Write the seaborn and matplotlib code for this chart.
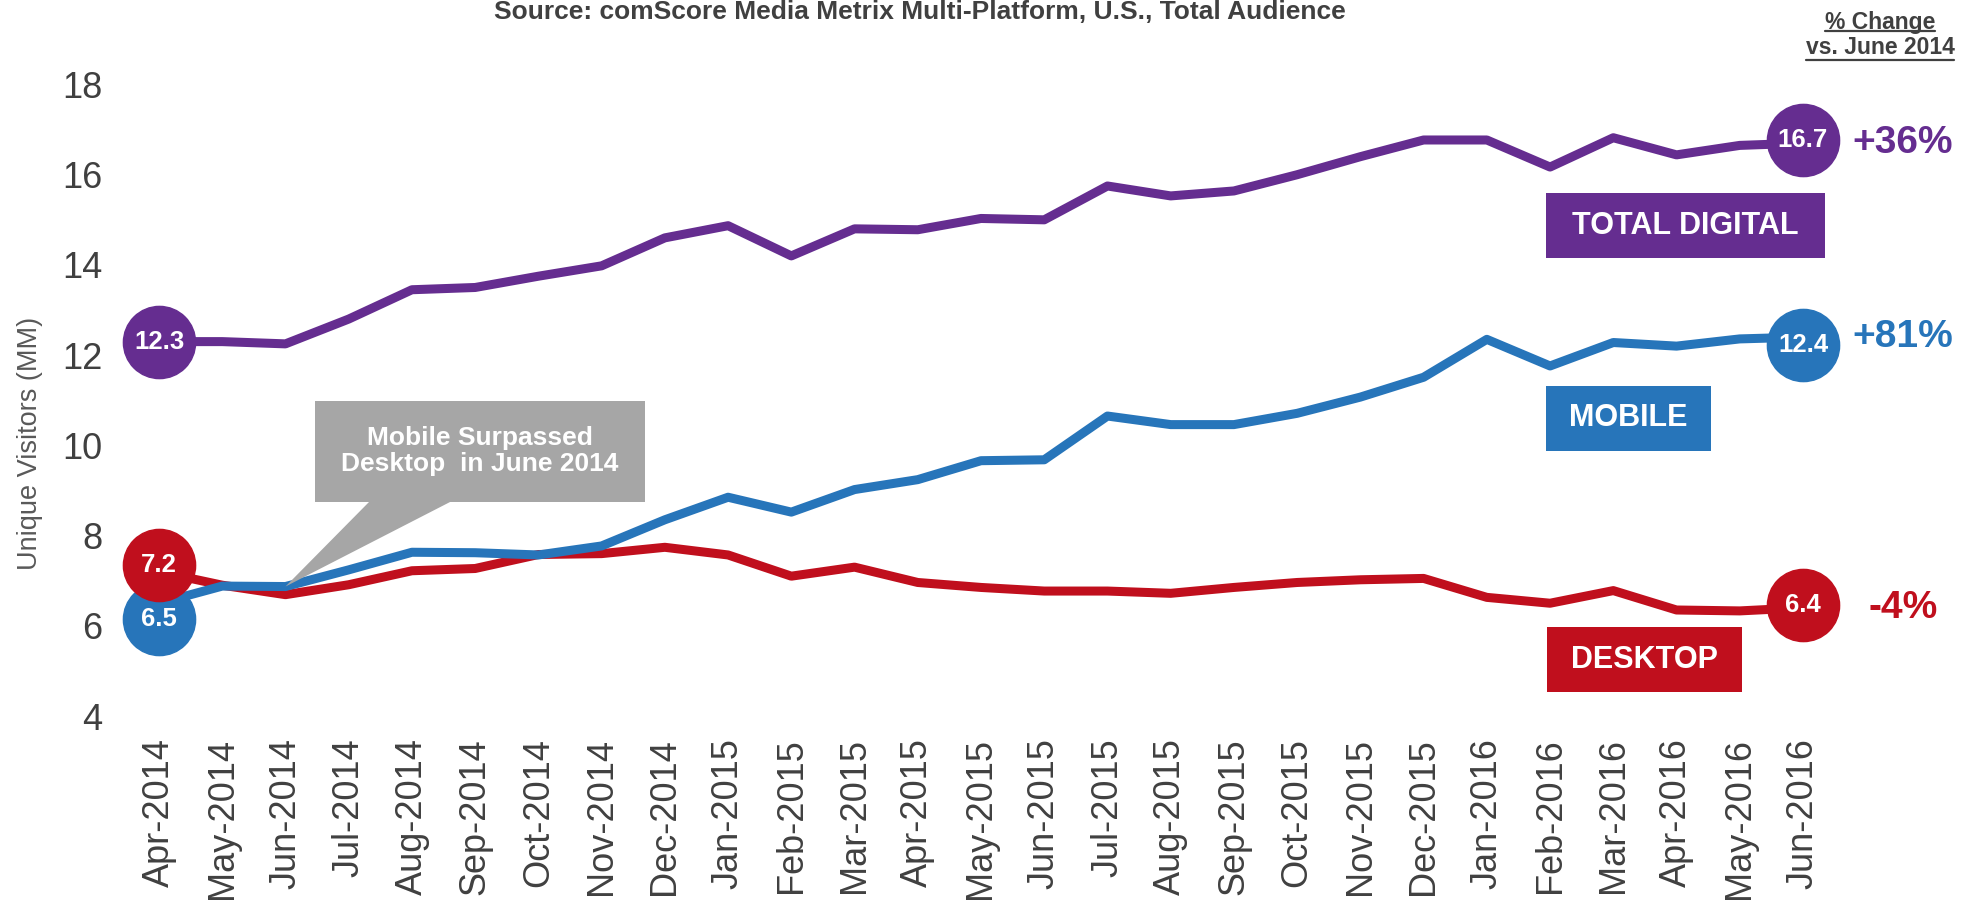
import matplotlib
matplotlib.use("Agg")
import matplotlib.pyplot as plt
from matplotlib.patches import Rectangle, Polygon
from matplotlib.lines import Line2D
from matplotlib.transforms import ScaledTranslation
import pandas as pd
import seaborn as sns

# ---- data -------------------------------------------------------------
months = ["Apr-2014", "May-2014", "Jun-2014", "Jul-2014", "Aug-2014", "Sep-2014",
          "Oct-2014", "Nov-2014", "Dec-2014", "Jan-2015", "Feb-2015", "Mar-2015",
          "Apr-2015", "May-2015", "Jun-2015", "Jul-2015", "Aug-2015", "Sep-2015",
          "Oct-2015", "Nov-2015", "Dec-2015", "Jan-2016", "Feb-2016", "Mar-2016",
          "Apr-2016", "May-2016", "Jun-2016"]

total_digital = [12.3, 12.3, 12.25, 12.8, 13.45, 13.5, 13.75, 13.98, 14.6, 14.87,
                 14.2, 14.8, 14.78, 15.03, 15.0, 15.75, 15.53, 15.64, 16.0, 16.4,
                 16.77, 16.77, 16.17, 16.82, 16.44, 16.65, 16.7]
mobile = [6.5, 6.88, 6.87, 7.24, 7.63, 7.62, 7.57, 7.77, 8.35, 8.85,
          8.52, 9.02, 9.24, 9.66, 9.68, 10.65, 10.46, 10.46, 10.71, 11.07,
          11.51, 12.35, 11.76, 12.28, 12.2, 12.36, 12.4]
desktop = [7.2, 6.9, 6.69, 6.91, 7.22, 7.27, 7.58, 7.6, 7.74, 7.57,
           7.1, 7.3, 6.96, 6.85, 6.77, 6.77, 6.72, 6.85, 6.96, 7.02,
           7.05, 6.63, 6.5, 6.78, 6.35, 6.33, 6.4]

series_names = ["TOTAL DIGITAL", "MOBILE", "DESKTOP"]
pct_change = ["+36%", "+81%", "-4%"]
y_ticks = [4, 6, 8, 10, 12, 14, 16, 18]

title = "Source: comScore Media Metrix Multi-Platform, U.S., Total Audience"
callout_text = "Mobile Surpassed\nDesktop  in June 2014"
ylabel = "Unique Visitors (MM)"

# ---- style ------------------------------------------------------------
sns.set_theme(style="white")
plt.rcParams["font.family"] = ["Liberation Sans", "DejaVu Sans"]

colors = {"TOTAL DIGITAL": "#652D90", "MOBILE": "#2775BA", "DESKTOP": "#C00F1D"}
grey_text = "#404040"

W, H = 1963, 906
fig = plt.figure(figsize=(W / 100, H / 100), dpi=100)
fig.patch.set_facecolor("white")

def fx(x):
    return x / W

def fy(y):
    return 1 - y / H

ax = fig.add_axes([fx(127.4), fy(716), fx(1834.6 - 127.4), (716 - 84.5) / H])

values = {"TOTAL DIGITAL": total_digital, "MOBILE": mobile, "DESKTOP": desktop}
rows = []
for name in series_names:
    for i, v in enumerate(values[name]):
        rows.append({"month": i, "visitors": v, "platform": name})
df = pd.DataFrame(rows)

sns.lineplot(data=df, x="month", y="visitors", hue="platform",
             hue_order=["DESKTOP", "MOBILE", "TOTAL DIGITAL"],
             palette=colors, linewidth=6.5, legend=False, sort=False, ax=ax)
for line in ax.get_lines():
    line.set_solid_joinstyle("round")
    line.set_solid_capstyle("butt")

ax.set_xlim(-0.5, len(months) - 0.5)
ax.set_ylim(4, 18)
ax.set_yticks(y_ticks)
ax.set_yticklabels([str(t) for t in y_ticks])
ax.set_xticks(range(len(months)))
ax.set_xticklabels(months, rotation=90)
ax.tick_params(axis="y", length=0, pad=18, labelsize=26, labelcolor=grey_text)
ax.tick_params(axis="x", length=0, pad=16, labelsize=26, labelcolor=grey_text)
ax.set_xlabel("")
ax.set_ylabel("")
for s in ax.spines.values():
    s.set_visible(False)
ax.grid(False)

fig.text(fx(30), fy(443), ylabel, rotation=90, ha="center", va="center",
         fontsize=19.5, color="#595959")

# ---- value badges at both ends ---------------------------------------
def badge(xi, val, color, dy_pt=0.0):
    tr = ax.transData + ScaledTranslation(0, dy_pt / 72, fig.dpi_scale_trans)
    ax.plot([xi], [val], marker="o", ms=52, color=color, mec=color,
            transform=tr, clip_on=False, zorder=5)
    ax.text(xi, val, f"{val:.1f}", transform=tr, ha="center", va="center",
            fontsize=18.5, fontweight="bold", color="white", zorder=6)

last = len(months) - 1
badge(0, total_digital[0], colors["TOTAL DIGITAL"])
badge(0, mobile[0], colors["MOBILE"], dy_pt=-11)
badge(0, desktop[0], colors["DESKTOP"], dy_pt=5)
badge(last, total_digital[-1], colors["TOTAL DIGITAL"], dy_pt=2)
badge(last, mobile[-1], colors["MOBILE"], dy_pt=-6)
badge(last, desktop[-1], colors["DESKTOP"], dy_pt=2)

# percent change labels to the right of the last badges
pct_y = {"TOTAL DIGITAL": total_digital[-1], "MOBILE": mobile[-1], "DESKTOP": desktop[-1]}
for name, pct in zip(series_names, pct_change):
    ypos = fig.transFigure.inverted().transform(
        ax.transData.transform((last, pct_y[name])))[1]
    fig.text(fx(1903), ypos, pct, ha="center", va="center", fontsize=28,
             fontweight="bold", color=colors[name])

# series name boxes
boxes = {"TOTAL DIGITAL": (1546, 193, 1825, 258),
         "MOBILE": (1546, 386, 1711, 451),
         "DESKTOP": (1547, 627, 1742, 692)}
for name, (x0, y0, x1, y1) in boxes.items():
    fig.patches.append(Rectangle((fx(x0), fy(y1)), fx(x1 - x0), (y1 - y0) / H,
                                 transform=fig.transFigure, facecolor=colors[name],
                                 edgecolor="none", zorder=3))
    fig.text(fx((x0 + x1) / 2), fy((y0 + y1) / 2), name, ha="center", va="center",
             fontsize=22, fontweight="bold", color="white", zorder=4)

# ---- callout ------------------------------------------------------------
callout_grey = "#A6A6A6"
tip = fig.transFigure.inverted().transform(ax.transData.transform((2, mobile[2])))
fig.patches.append(Rectangle((fx(315), fy(502)), fx(330), 101 / H,
                             transform=fig.transFigure, facecolor=callout_grey,
                             edgecolor="none", zorder=3))
fig.patches.append(Polygon([(fx(370), fy(501)), (fx(452), fy(501)), tuple(tip)],
                           closed=True, transform=fig.transFigure,
                           facecolor=callout_grey, edgecolor="none", zorder=3))
fig.text(fx(480), fy(451), callout_text, ha="center", va="center", fontsize=19,
         fontweight="bold", color="white", linespacing=1.1, zorder=4)

# ---- header texts -------------------------------------------------------
fig.text(fx(920), fy(19), title, ha="center", va="baseline", fontsize=19,
         fontweight="bold", color=grey_text)

hdr1 = fig.text(fx(1880), fy(22), "% Change", ha="center", va="center",
                fontsize=16.5, fontweight="bold", color=grey_text)
hdr2 = fig.text(fx(1880), fy(47), "vs. June 2014", ha="center", va="center",
                fontsize=16.5, fontweight="bold", color=grey_text)
fig.canvas.draw()
renderer = fig.canvas.get_renderer()
for t, uy in ((hdr1, 31), (hdr2, 60)):
    bb = t.get_window_extent(renderer)
    fig.add_artist(Line2D([bb.x0 / W, bb.x1 / W], [fy(uy), fy(uy)],
                          transform=fig.transFigure, color=grey_text, lw=1.6))

fig.savefig("out.png", dpi=100, facecolor="white")
